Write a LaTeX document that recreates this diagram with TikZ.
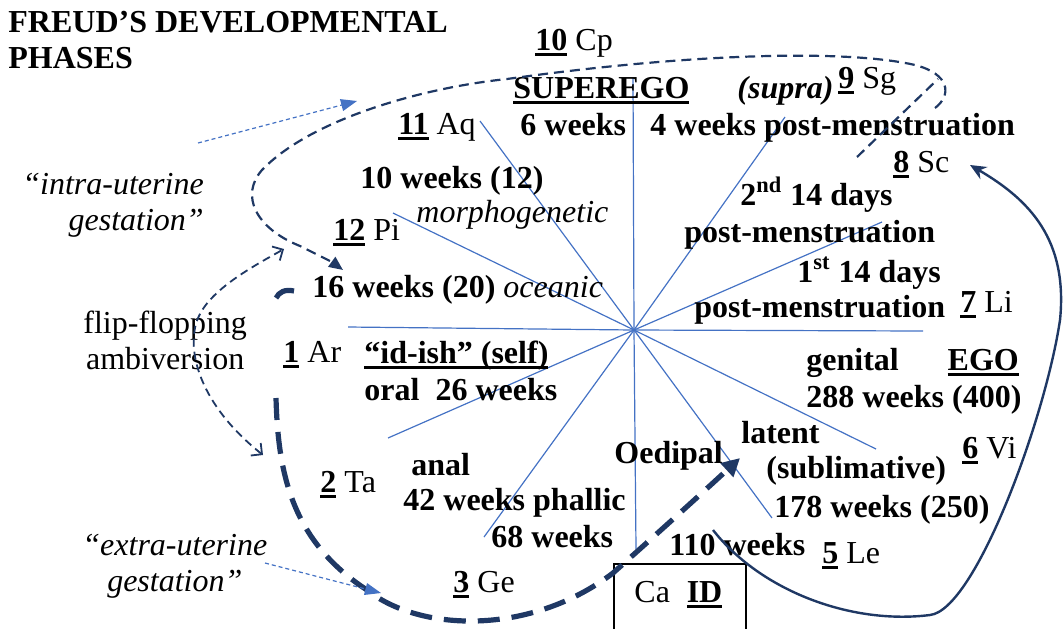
\documentclass[tikz,border=0pt]{standalone}
\usepackage{fontspec}
\setmainfont{Liberation Serif}
\usetikzlibrary{arrows.meta,positioning}
\definecolor{navy}{RGB}{31,56,100}
\definecolor{rayblue}{RGB}{68,114,196}
\newcommand{\phul}[1]{\setbox0\hbox{#1}\rlap{\rule[-3pt]{\wd0}{1.4pt}}\box0\relax}
\newcommand{\phase}[2]{\phul{\textbf{#1}} #2}

\begin{document}
\begin{tikzpicture}[x=0.5pt, y=-0.5pt,
  lbl/.style={inner sep=0pt, anchor=base west, font=\fontsize{16}{18}\selectfont},
  bold/.style={lbl, font=\fontsize{16}{18}\selectfont\bfseries},
  ray/.style={rayblue, line width=0.6pt},
  loopline/.style={navy, line width=1.1pt, dash pattern=on 5pt off 3pt},
  bigline/.style={navy, line width=2.6pt, dash pattern=on 11pt off 6pt},
  flipline/.style={navy, line width=0.9pt, dash pattern=on 4pt off 2.5pt},
  hint/.style={rayblue, line width=0.6pt, dash pattern=on 2pt off 1.5pt, -{Triangle[length=8pt,width=6pt]}}]
  \clip (0,0) rectangle (1063,628);

  % the twelve rays
  \coordinate (hub) at (634,330);
  \foreach \x/\y [count=\i] in {633/78, 480/121, 393/213, 348/327, 388/438, 484/537,
                                636/549, 772/518, 876/449, 923/331, 882/222, 785/117}
    \coordinate (r\i) at (\x,\y);
  \foreach \i in {1,...,12}
    \draw[ray] (hub) -- (r\i);

  % labels (multi-line ones sit on their last line)
  \node (title) [bold, align=left] at (8,68) {FREUD’S DEVELOPMENTAL\\PHASES};
  \node (cp) [lbl] at (535,50) {\phase{10}{Cp}};
  \node (superego) [bold] at (513,98) {\phul{SUPEREGO}};
  \node (supra) [bold] at (737,98) {\textit{(supra)}};
  \node (sg) [lbl] at (838,88) {\phase{9}{Sg}};
  \node (aq) [lbl] at (398,134) {\phase{11}{Aq}};
  \node (sixwk) [bold] at (520,135) {6 weeks};
  \node (fourwk) [bold] at (650,135) {4 weeks post-menstruation};
  \node (sc) [lbl] at (893,172) {\phase{8}{Sc}};
  \node (tenwk) [bold] at (360,188) {10 weeks (12)};
  \node (second) [bold] at (740,205) {2\textsuperscript{nd} 14 days};
  \node (morph) [lbl] at (416,222) {\textit{morphogenetic}};
  \node (pi) [lbl] at (333,240) {\phase{12}{Pi}};
  \node (postb) [bold] at (684,242) {post-menstruation};
  \node (first) [bold] at (797,282) {1\textsuperscript{st} 14 days};
  \node (sixteen) [bold] at (312,297) {16 weeks (20) \mdseries\textit{oceanic}};
  \node (posta) [bold] at (694,317) {post-menstruation};
  \node (li) [lbl] at (960,312) {\phase{7}{Li}};
  \node (flip) [lbl, align=center] at (83,369) {flip-flopping\\ambiversion};
  \node (ar) [lbl] at (283,362) {\phase{1}{Ar}};
  \node (idish) [bold] at (364,363) {\phul{“id-ish” (self)}};
  \node (genital) [bold] at (806,370) {genital};
  \node (ego) [bold, base right=24pt of genital] {\phul{EGO}};
  \node (oral) [bold] at (364,400) {oral\ \ 26 weeks};
  \node (gen288) [bold] at (806,407) {288 weeks (400)};
  \node (latent) [bold] at (741,443) {latent};
  \node (vi) [lbl] at (962,458) {\phase{6}{Vi}};
  \node (oedipal) [bold] at (614,463) {Oedipal};
  \node (anal) [bold] at (411,475) {anal};
  \node (sublim) [bold] at (766,478) {(sublimative)};
  \node (ta) [lbl] at (320,492) {\phase{2}{Ta}};
  \node (phallic) [bold] at (403,510) {42 weeks phallic};
  \node (lat178) [bold] at (774,517) {178 weeks (250)};
  \node (sixtyeight) [bold] at (491,547) {68 weeks};
  \node (onetenwk) [bold] at (669,555) {110 weeks};
  \node (le) [lbl] at (822,563) {\phase{5}{Le}};
  \node (ge) [lbl] at (453,592) {\phase{3}{Ge}};
  \node (intra) [lbl, align=right] at (22,230) {\textit{“intra-uterine}\\\textit{gestation”}};
  \node (extra) [lbl, align=center] at (82,591) {\textit{“extra-uterine}\\\textit{gestation”}};

  % the id box
  \node (idbox) [draw, line width=1pt, anchor=north west, inner sep=0pt,
                 minimum width=66pt, minimum height=48pt] at (613,563) {};
  \node (ca) [lbl] at (634,602) {Ca};
  \node (id) [bold, base right=8pt of ca] {\phul{ID}};

  % connectors
  \coordinate (loopS) at (935,108);
  \coordinate (loopE) at (343,270);
  \coordinate (twistA) at (857,157);
  \coordinate (twistB) at (938,79);
  \coordinate (stubS) at (294,291);
  \coordinate (stubE) at (276,298);
  \coordinate (bigS) at (276,398);
  \coordinate (bigE) at (740,458);
  \coordinate (flipA) at (263,455);
  \coordinate (flipB) at (284,249);
  \coordinate (intraT) at (198,143);
  \coordinate (intraH) at (357,101);
  \coordinate (extraT) at (265,563);
  \coordinate (extraH) at (381,593);
  \coordinate (egoS) at (713,530);
  \coordinate (egoE) at (970,165);

  \draw[loopline, -{Triangle[length=7pt,width=6pt]}] (loopS)
    .. controls (952,95) and (950,74) .. (915,65)
    .. controls (850,50) and (700,52) .. (507,79)
    .. controls (420,88) and (310,120) .. (262,170)
    .. controls (240,195) and (255,228) .. (300,246)
    .. controls (318,255) and (332,262) .. (loopE);
  \draw[loopline] (twistA) -- (twistB);

  \draw[bigline] (stubS) .. controls (285,289) and (279,292) .. (stubE);
  \draw[bigline, -{Triangle[length=9pt,width=9pt]}] (bigS)
    .. controls (278,470) and (290,540) .. (367,590)
    .. controls (420,632) and (530,636) .. (613,573)
    .. controls (650,540) and (700,495) .. (bigE);

  \draw[flipline, {Straight Barb[length=4pt,width=8pt]}-{Straight Barb[length=4pt,width=8pt]}] (flipA)
    .. controls (200,405) and (185,350) .. (198,318)
    .. controls (210,290) and (250,268) .. (flipB);

  \draw[hint] (intraT) -- (intraH);
  \draw[hint] (extraT) -- (extraH);

  \draw[navy, line width=1.2pt, -{Stealth[length=8pt,width=7pt]}] (egoS)
    .. controls (760,590) and (850,625) .. (930,615)
    .. controls (975,610) and (1045,420) .. (1060,320)
    .. controls (1068,240) and (1030,200) .. (egoE);
\end{tikzpicture}
\end{document}
